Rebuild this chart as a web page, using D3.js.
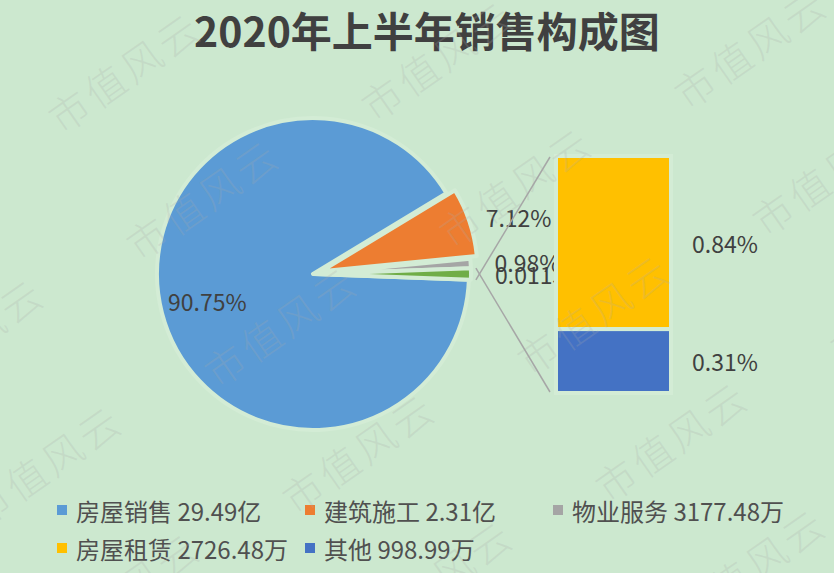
<!DOCTYPE html>
<html>
<head>
<meta charset="utf-8">
<script src="https://cdn.jsdelivr.net/npm/d3@7"></script>
<style>
  body { margin: 0; background: #cce8cf; }
  svg { display: block; }
</style>
</head>
<body>
<svg width="834" height="573"></svg>
<script>
// data
var categories = ["房屋销售", "建筑施工", "物业服务", "房屋租赁", "其他"];
var amounts = ["29.49亿", "2.31亿", "3177.48万", "2726.48万", "998.99万"];
var pieShares = [90.75, 7.12, 0.98];   // % in the main pie
var barShares = [0.84, 0.31];          // % split out into the bar
var colors = ["#5b9bd5", "#ed7d31", "#a5a5a5", "#ffc000", "#4472c4"];
var otherColor = "#70ad47";
var title = "2020年上半年销售构成图";
var watermark = "市值风云";

var svg = d3.select("svg"),
    width = 834,
    height = 573,
    bg = "#cce8cf",
    gap = "#d3ecd5";

var font = "'Noto Sans CJK SC', 'Noto Sans', sans-serif";

svg.append("rect").attr("width", width).attr("height", height).attr("fill", bg);

svg.append("text")
    .attr("x", 427)
    .attr("y", 47)
    .attr("text-anchor", "middle")
    .attr("font-family", font)
    .attr("font-weight", "bold")
    .attr("font-size", 41)
    .attr("fill", "#404040")
    .text(title);

// ---- pie ----
var cx = 313, cy = 274, r = 156;
var otherShare = d3.sum(barShares);
var pieData = pieShares.concat([otherShare]);
var pieColors = colors.slice(0, 3).concat([otherColor]);
var explode = [0, 9, 2, 2];

var otherAngle = otherShare / d3.sum(pieData) * 2 * Math.PI;
var start = Math.PI / 2 + otherAngle / 2;

var pie = d3.pie().sort(null).value(function(d) { return d; })
    .startAngle(start).endAngle(start + 2 * Math.PI);
var arcs = pie(pieData);

var arc = d3.arc().innerRadius(0).outerRadius(r);
var inLabel = d3.arc().innerRadius(r * 0.7).outerRadius(r * 0.7);

function mid(d) { return (d.startAngle + d.endAngle) / 2; }

var g = svg.append("g").attr("transform", "translate(" + cx + "," + cy + ")");

g.selectAll("path")
    .data(arcs)
    .enter().append("path")
      .attr("d", arc)
      .attr("fill", function(d, i) { return pieColors[i]; })
      .attr("stroke", gap)
      .attr("stroke-width", 4)
      .attr("stroke-linejoin", "round")
      .attr("transform", function(d, i) {
        var a = mid(d);
        return "translate(" + (Math.sin(a) * explode[i]) + "," + (-Math.cos(a) * explode[i]) + ")";
      });

var labelStyle = function(sel) {
  sel.attr("font-family", font).attr("font-size", 23).attr("fill", "#404040")
     .attr("dominant-baseline", "central");
};

// big slice label inside, the rest outside to the right
g.append("text")
    .attr("x", inLabel.centroid(arcs[0])[0])
    .attr("y", inLabel.centroid(arcs[0])[1])
    .attr("text-anchor", "middle")
    .call(labelStyle)
    .text(d3.format(".2f")(pieData[0]) + "%");

var rOut = 182;
g.selectAll("text.out")
    .data(arcs.slice(1))
    .enter().append("text")
      .attr("class", "out")
      .attr("x", function(d) { return Math.sin(mid(d)) * rOut; })
      .attr("y", function(d) { return -Math.cos(mid(d)) * rOut; })
      .attr("text-anchor", "start")
      .call(labelStyle)
      .text(function(d, i) {
        // excel left the combined slice unformatted
        if (i === 2) return String(+(d.data / 100).toFixed(4));
        return d3.format(".2f")(d.data) + "%";
      });

// ---- bar of the split-out slices ----
var barX = 556, barW = 115;
var yBar = d3.scaleLinear().domain([0, otherShare]).range([393, 156]);
var stack = [];
var acc = otherShare;
barShares.forEach(function(v, i) {
  stack.push({ v: v, top: acc, bottom: acc - v, color: colors[3 + i] });
  acc -= v;
});

svg.selectAll("rect.bar")
    .data(stack)
    .enter().append("rect")
      .attr("class", "bar")
      .attr("x", barX)
      .attr("width", barW)
      .attr("y", function(d) { return yBar(d.top); })
      .attr("height", function(d) { return yBar(d.bottom) - yBar(d.top); })
      .attr("fill", function(d) { return d.color; })
      .attr("stroke", gap)
      .attr("stroke-width", 4);

svg.selectAll("text.barlabel")
    .data(stack)
    .enter().append("text")
      .attr("class", "barlabel")
      .attr("x", barX + barW + 21)
      .attr("y", function(d) { return (yBar(d.top) + yBar(d.bottom)) / 2; })
      .call(labelStyle)
      .text(function(d) { return d3.format(".2f")(d.v) + "%"; });

// connector lines from the combined slice to the bar
var other = arcs[3];
var rc = r + explode[3] + 5;
var lines = [
  [other.endAngle, yBar(otherShare) + 1],
  [other.startAngle, yBar(0) - 1]
];
svg.selectAll("line.conn")
    .data(lines)
    .enter().append("line")
      .attr("class", "conn")
      .attr("x1", function(d) { return cx + Math.sin(d[0]) * rc; })
      .attr("y1", function(d) { return cy - Math.cos(d[0]) * rc; })
      .attr("x2", barX - 6)
      .attr("y2", function(d) { return d[1]; })
      .attr("stroke", "#a6a6a6")
      .attr("stroke-width", 1.5);

// ---- legend ----
var legX = [57, 305, 553], legY = [510, 548];
var legend = svg.selectAll("g.legend")
    .data(categories)
    .enter().append("g")
      .attr("class", "legend")
      .attr("transform", function(d, i) {
        return "translate(" + legX[i % 3] + "," + legY[Math.floor(i / 3)] + ")";
      });

legend.append("rect")
    .attr("x", 0).attr("y", -5)
    .attr("width", 10).attr("height", 10)
    .attr("fill", function(d, i) { return colors[i]; });

legend.append("text")
    .attr("x", 19)
    .attr("y", 0)
    .attr("dominant-baseline", "central")
    .attr("font-family", font)
    .attr("font-size", 24)
    .attr("fill", "#505050")
    .text(function(d, i) { return d + " " + amounts[i]; });

// ---- watermark ----
var marks = [];
for (var i = -1; i <= 5; i++) {
  for (var j = -1; j <= 3; j++) {
    marks.push([124 + 313 * j + 78 * i, 71 - 12 * j + 127 * i]);
  }
}
svg.selectAll("text.wm")
    .data(marks)
    .enter().append("text")
      .attr("class", "wm")
      .attr("transform", function(d) { return "translate(" + d[0] + "," + d[1] + ") rotate(-35)"; })
      .attr("text-anchor", "middle")
      .attr("dominant-baseline", "central")
      .attr("font-family", font)
      .attr("font-weight", 300)
      .attr("font-size", 40)
      .attr("letter-spacing", 4)
      .attr("fill", "#aaaaaa")
      .attr("fill-opacity", 0.22)
      .text(watermark);
</script>
</body>
</html>
